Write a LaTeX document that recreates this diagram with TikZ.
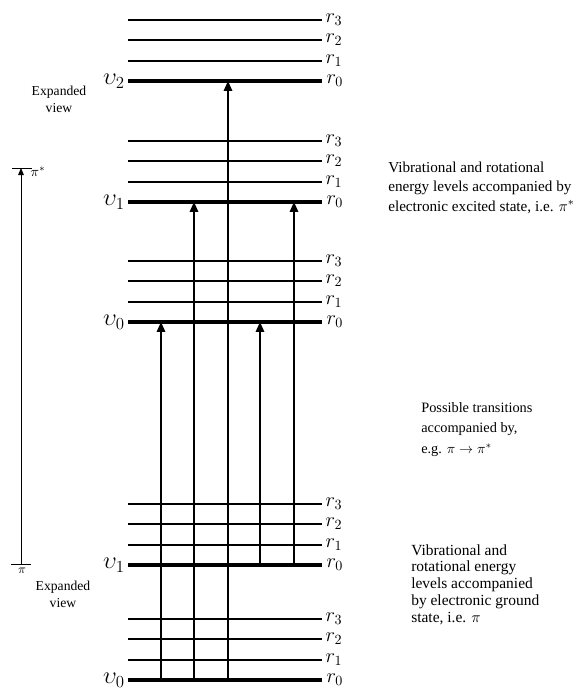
\documentclass[tikz,border=0pt]{standalone}
\usepackage{fontspec}
\setmainfont{Liberation Serif}
\usetikzlibrary{arrows.meta,calc}
\tikzset{
  rot/.style={line width=1.3pt},
  vib/.style={line width=2.4pt},
  trans/.style={line width=1.1pt,-{Triangle[length=7pt,width=6pt]}},
  rlab/.style={anchor=west,inner sep=0pt,xshift=2pt,font=\Large},
  vlab/.style={anchor=east,inner sep=0pt,xshift=-2pt,font=\LARGE},
  note/.style={anchor=north west,align=left,inner sep=0pt},
  side/.style={align=center,inner sep=0pt,font=\fontsize{9.7}{12}\selectfont}
}
\begin{document}
\begin{tikzpicture}[x=0.025cm,y=-0.025cm]
\useasboundingbox (0,0) rectangle (582,689);
% vibrational levels (r0) with their rotational levels
\foreach \g/\y/\v in {a/81/2,b/202/1,c/322/0,d/565/1,e/680/0}
  {
    \foreach \r/\dy in {1/20,2/41,3/61}
      {
        \draw[rot] (128,\y-\dy) -- (322,\y-\dy) node[rlab] {$r_{\r}$};
      }
    \draw[vib] (128,\y) coordinate (\g l) -- (322,\y) coordinate (\g r) node[rlab] {$r_0$};
    \node[vlab] (\g v) at (\g l) {$\upsilon_{\v}$};
  }
% columns of the transitions
\foreach \k/\x in {1/161,2/194,3/228,4/260,5/294}
  \coordinate (col\k) at (\x,0);
\draw[trans] (col1 |- el) -- (col1 |- cl);
\draw[trans] (col2 |- el) -- (col2 |- bl);
\draw[trans] (col3 |- el) -- (col3 |- al);
\draw[trans] (col4 |- dl) -- (col4 |- cl);
\draw[trans] (col5 |- dl) -- (col5 |- bl);
% pi -> pi* on the left
\coordinate (pib) at (21,564);
\coordinate (pit) at (21,168);
\draw[line width=0.7pt] ($(pib)+(-10,0)$) -- ($(pib)+(10,0)$);
\draw[line width=0.7pt] ($(pit)+(-9,0)$) -- ($(pit)+(11,0)$);
\draw[line width=0.7pt,-{Triangle[length=5pt,width=4pt]}] (pib) -- (pit);
\node[font=\normalsize,anchor=west,inner sep=1pt] (pistar) at (29,172) {$\pi^*$};
\node[font=\small,anchor=north,inner sep=1pt] (pi) at (22,566) {$\pi$};
\node[side] (expa) at (59,99) {Expanded\\view};
\node[side] (expd) at (63,594) {Expanded\\view};
% notes on the right
\node[note,font=\fontsize{10.8}{13.6}\selectfont] (excited) at (388,162)
  {Vibrational and rotational\\energy levels accompanied by\\electronic excited state, i.e. $\pi^*$};
\node[note,font=\fontsize{10.2}{14.6}\selectfont] (possible) at (421,402)
  {Possible transitions\\accompanied by,\\e.g. $\pi\rightarrow\pi^*$};
\node[note,font=\fontsize{11}{12}\selectfont] (groundnote) at (411,544)
  {Vibrational and\\rotational energy\\levels accompanied\\by electronic ground\\state, i.e. $\pi$};
\end{tikzpicture}
\end{document}
